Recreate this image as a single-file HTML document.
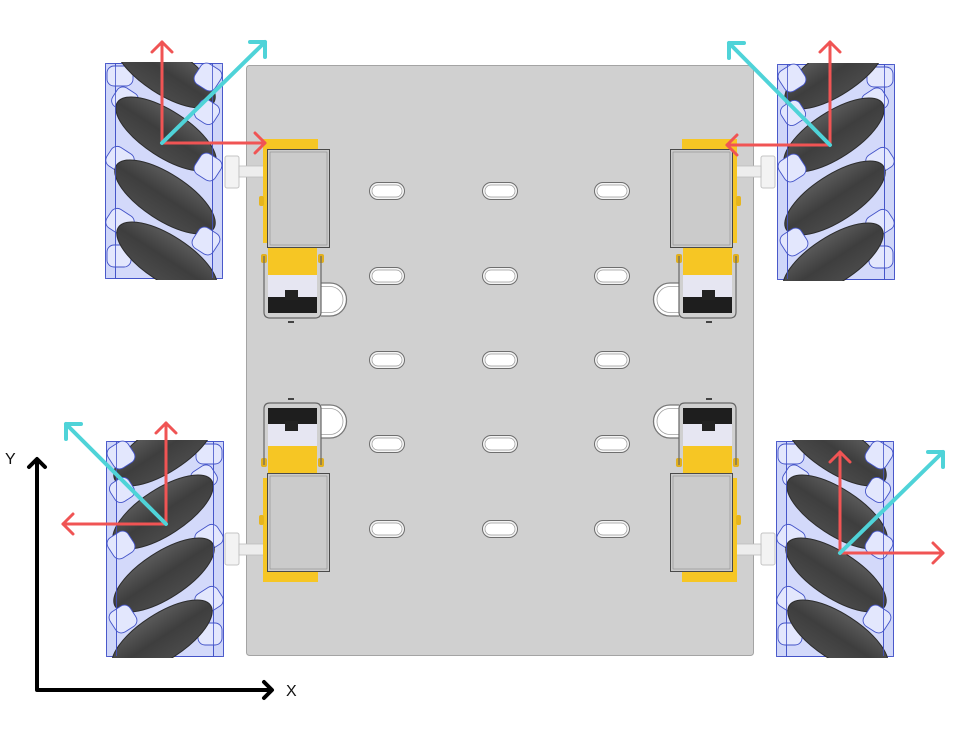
<!DOCTYPE html>
<html><head><meta charset="utf-8"><style>
html,body{margin:0;padding:0;background:#fff;}
svg{display:block;}
</style></head><body>
<svg width="969" height="747" viewBox="0 0 969 747" xmlns="http://www.w3.org/2000/svg">
<defs>
  <linearGradient id="rg" x1="0" y1="0" x2="0" y2="1">
    <stop offset="0" stop-color="#5a5a5a"/>
    <stop offset="0.5" stop-color="#3e3e3e"/>
    <stop offset="1" stop-color="#4a4a4a"/>
  </linearGradient>
  <clipPath id="wc"><rect x="5" y="0" width="108" height="218"/></clipPath>
  <g id="wheel">
    <rect x="0.5" y="1.5" width="117" height="215" rx="3" fill="#d3d9fa" stroke="#4353c8" stroke-width="1"/>
    <rect x="0.5" y="1.5" width="10" height="215" fill="#cfd6f9" stroke="#4353c8" stroke-width="0.9"/>
    <rect x="107.5" y="1.5" width="10" height="215" fill="#cfd6f9" stroke="#4353c8" stroke-width="0.9"/>
    <g fill="#e3e7fd" stroke="#4353c8" stroke-width="0.9">
      <rect x="2" y="4" width="26" height="20" rx="7"/>
      <rect x="8" y="27" width="24" height="22" rx="7" transform="rotate(33 20 38)"/>
      <rect x="2" y="87" width="26" height="22" rx="7" transform="rotate(33 15 98)"/>
      <rect x="2" y="149" width="26" height="22" rx="7" transform="rotate(33 15 160)"/>
      <rect x="2" y="183" width="24" height="22" rx="7"/>
    </g>
    <g clip-path="url(#wc)">
      <ellipse cx="60" cy="9" rx="58" ry="23" transform="rotate(33 60 9)" fill="url(#rg)" stroke="#2c2c2c" stroke-width="1"/>
      <ellipse cx="61" cy="72" rx="58" ry="23" transform="rotate(33 61 72)" fill="url(#rg)" stroke="#2c2c2c" stroke-width="1"/>
      <ellipse cx="60" cy="135" rx="58" ry="23" transform="rotate(33 60 135)" fill="url(#rg)" stroke="#2c2c2c" stroke-width="1"/>
      <ellipse cx="62" cy="197" rx="58" ry="23" transform="rotate(33 62 197)" fill="url(#rg)" stroke="#2c2c2c" stroke-width="1"/>
    </g>
    <g fill="#e3e7fd" stroke="#4353c8" stroke-width="0.9">
      <rect x="91" y="3" width="24" height="24" rx="7" transform="rotate(33 103 15)"/>
      <rect x="91" y="39" width="22" height="22" rx="7" transform="rotate(33 102 50)"/>
      <rect x="91" y="93" width="24" height="24" rx="7" transform="rotate(33 103 105)"/>
      <rect x="89" y="167" width="24" height="24" rx="7" transform="rotate(33 101 179)"/>
    </g>
    <line x1="10.5" y1="2" x2="10.5" y2="216" stroke="#4353c8" stroke-width="0.8"/>
    <line x1="107.5" y1="2" x2="107.5" y2="216" stroke="#4353c8" stroke-width="0.8"/>
  </g>

  <g id="motor">
    <rect x="225" y="156" width="14" height="32" rx="2" fill="#f3f3f3" stroke="#c4c4c4" stroke-width="1"/>
    <rect x="239" y="166" width="27" height="11" fill="#ededed" stroke="#bdbdbd" stroke-width="0.8"/>
    <rect x="263" y="139" width="55" height="11" fill="#f6c624"/>
    <rect x="263" y="139" width="6" height="104" fill="#f6c624"/>
    <rect x="259" y="196" width="5" height="10" rx="2" fill="#e6b51e"/>
    <rect x="267.5" y="149.5" width="62" height="98" fill="#cbcbcb" stroke="#4a4a4a" stroke-width="1"/>
    <rect x="270" y="152" width="57" height="93" fill="none" stroke="#8c8c8c" stroke-width="0.6"/>
    <rect x="268" y="248" width="49" height="27" fill="#f6c624"/>
    <rect x="261" y="254" width="6" height="9" rx="2" fill="#e2b01e"/>
    <rect x="318" y="254" width="6" height="9" rx="2" fill="#e2b01e"/>
    <rect x="268" y="275" width="49" height="22" fill="#e6e6f2"/>
    <rect x="268" y="297" width="49" height="16" fill="#1e1e1e"/>
    <rect x="285" y="290" width="13" height="10" fill="#222"/>
    <path d="M321 283 H330 A16.5 16.5 0 0 1 330 316 H321" fill="#fff" stroke="#777" stroke-width="1.3"/>
    <path d="M321 286.5 H330 A13 13 0 0 1 330 312.5 H321" fill="none" stroke="#a0a0a0" stroke-width="0.8"/>
    <path d="M264 256 V312 Q264 318 270 318 H315 Q321 318 321 312 V256" fill="none" stroke="#666" stroke-width="1.2"/>
    <rect x="288" y="321" width="6" height="2" fill="#444"/>
  </g>

  <g id="slot">
    <rect x="-17.5" y="-8.5" width="35" height="17" rx="8.5" fill="#f4f4f4" stroke="#6e6e6e" stroke-width="1"/>
    <rect x="-15" y="-6" width="30" height="12" rx="6" fill="#fff" stroke="#9a9a9a" stroke-width="0.7"/>
  </g>
</defs>

<!-- plate -->
<rect x="246.5" y="65.5" width="507" height="590" rx="3" fill="#d0d0d0" stroke="#a4a4a4" stroke-width="1"/>

<!-- slots -->
<g>
  <use href="#slot" x="387" y="191"/><use href="#slot" x="500" y="191"/><use href="#slot" x="612" y="191"/>
  <use href="#slot" x="387" y="276"/><use href="#slot" x="500" y="276"/><use href="#slot" x="612" y="276"/>
  <use href="#slot" x="387" y="360"/><use href="#slot" x="500" y="360"/><use href="#slot" x="612" y="360"/>
  <use href="#slot" x="387" y="444"/><use href="#slot" x="500" y="444"/><use href="#slot" x="612" y="444"/>
  <use href="#slot" x="387" y="529"/><use href="#slot" x="500" y="529"/><use href="#slot" x="612" y="529"/>
</g>

<!-- motors -->
<use href="#motor"/>
<use href="#motor" transform="translate(1000,0) scale(-1,1)"/>
<use href="#motor" transform="translate(0,721) scale(1,-1)"/>
<use href="#motor" transform="translate(1000,721) scale(-1,-1)"/>

<!-- wheels -->
<use href="#wheel" transform="translate(105,62)"/>
<use href="#wheel" transform="translate(895,63) scale(-1,1)"/>
<use href="#wheel" transform="translate(224,440) scale(-1,1)"/>
<use href="#wheel" transform="translate(776,440)"/>

<!-- arrows -->
<g fill="none" stroke-linecap="round" stroke-linejoin="round">
  <!-- TL -->
  <g stroke="#f05454" stroke-width="3">
    <line x1="162" y1="143" x2="162" y2="42"/><polyline points="152,52 162,42 172,52"/>
    <line x1="162" y1="143" x2="265" y2="143"/><polyline points="255,133 265,143 255,153"/>
  </g>
  <g stroke="#4fd3d8" stroke-width="4">
    <line x1="162" y1="143" x2="265" y2="42"/><polyline points="250,42 265,42 265,57"/>
  </g>
  <!-- TR -->
  <g stroke="#f05454" stroke-width="3">
    <line x1="830" y1="145" x2="830" y2="42"/><polyline points="820,52 830,42 840,52"/>
    <line x1="830" y1="145" x2="727" y2="145"/><polyline points="737,135 727,145 737,155"/>
  </g>
  <g stroke="#4fd3d8" stroke-width="4">
    <line x1="830" y1="145" x2="729" y2="43"/><polyline points="744,43 729,43 729,58"/>
  </g>
  <!-- BL -->
  <g stroke="#f05454" stroke-width="3">
    <line x1="166" y1="524" x2="166" y2="423"/><polyline points="156,433 166,423 176,433"/>
    <line x1="166" y1="524" x2="63" y2="524"/><polyline points="73,514 63,524 73,534"/>
  </g>
  <g stroke="#4fd3d8" stroke-width="4">
    <line x1="166" y1="524" x2="66" y2="424"/><polyline points="81,424 66,424 66,439"/>
  </g>
  <!-- BR -->
  <g stroke="#f05454" stroke-width="3">
    <line x1="840" y1="553" x2="840" y2="452"/><polyline points="830,462 840,452 850,462"/>
    <line x1="840" y1="553" x2="943" y2="553"/><polyline points="933,543 943,553 933,563"/>
  </g>
  <g stroke="#4fd3d8" stroke-width="4">
    <line x1="840" y1="553" x2="943" y2="452"/><polyline points="928,452 943,452 943,467"/>
  </g>
  <!-- axes -->
  <g stroke="#000" stroke-width="4">
    <polyline points="37,460 37,690 271,690"/>
    <polyline points="29,467 37,459 45,467"/>
    <polyline points="264,682 272,690 264,698"/>
  </g>
</g>

<text x="5" y="464" font-family="Liberation Sans, sans-serif" font-size="16" fill="#111">Y</text>
<text x="286" y="696" font-family="Liberation Sans, sans-serif" font-size="16" fill="#111">X</text>
</svg>
</body></html>
